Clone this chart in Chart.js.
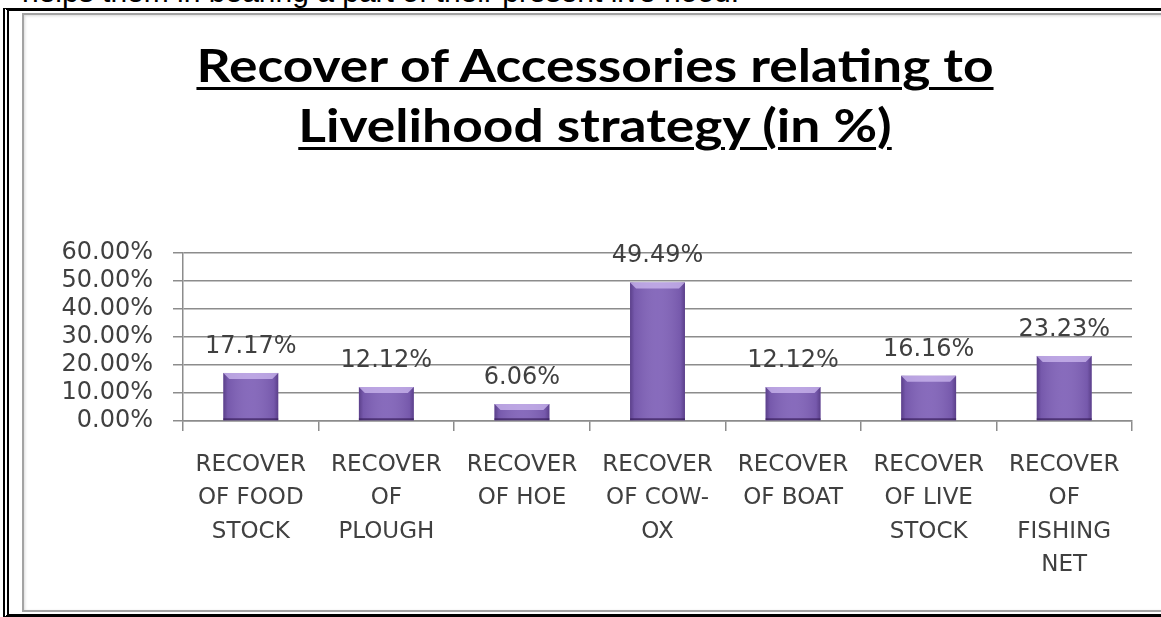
<!DOCTYPE html>
<html lang="en">
<head>
<meta charset="UTF-8">
<title>Recover of Accessories relating to Livelihood strategy (in %)</title>
<script src="https://cdn.jsdelivr.net/npm/chart.js"></script>
<style>
    body {
        margin: 0;
        background: #fff;
        width: 1161px;
        height: 617px;
        overflow: hidden;
        position: relative;
        font-family: Arial, "Liberation Sans", sans-serif;
    }
    .lead {
        position: absolute;
        left: 22px;
        top: -23px;
        font-size: 30px;
        line-height: 30px;
        white-space: nowrap;
        color: #000;
    }
    .frame {
        position: absolute;
        left: 3px;
        top: 8px;
        width: 1200px;
        height: 603px;
        border-left: 6px double #000;
        border-top: 3px solid #000;
        border-bottom: 3px solid #000;
    }
    .panel {
        position: absolute;
        left: 22px;
        top: 13px;
        width: 1200px;
        height: 595px;
        border: 2px solid #a3a3a3;
        box-shadow: inset 1px 1px 3px rgba(0, 0, 0, 0.15);
    }
    .title {
        position: absolute;
        left: 0;
        top: 35px;
        width: 1190px;
        text-align: center;
        font-family: Lato, "Open Sans", sans-serif;
        font-weight: bold;
        font-size: 45px;
        line-height: 60px;
        color: #000;
        text-decoration: underline;
        text-decoration-thickness: 3px;
        text-underline-offset: 5px;
        transform: scaleX(1.185);
        transform-origin: 595px 0;
    }
    .chart-box {
        position: absolute;
        left: 0;
        top: 0;
        width: 1161px;
        height: 617px;
    }
</style>
</head>
<body>
    <div class="lead">helps them in bearing a part of their present live hood.</div>
    <div class="frame"></div>
    <div class="panel"></div>
    <div class="title">Recover of Accessories relating to<br>Livelihood strategy (in %)</div>
    <div class="chart-box"><canvas id="recoverChart"></canvas></div>
<script>
    const categories = [
        ['RECOVER', 'OF FOOD', 'STOCK'],
        ['RECOVER', 'OF', 'PLOUGH'],
        ['RECOVER', 'OF HOE'],
        ['RECOVER', 'OF COW-', 'OX'],
        ['RECOVER', 'OF BOAT'],
        ['RECOVER', 'OF LIVE', 'STOCK'],
        ['RECOVER', 'OF', 'FISHING', 'NET']
    ];
    const shares = [17.17, 12.12, 6.06, 49.49, 12.12, 16.16, 23.23];
    const yTickValues = [0, 10, 20, 30, 40, 50, 60];

    const pct = v => v.toFixed(2) + '%';
    const textFont = '"DejaVu Sans", Verdana, sans-serif';
    const gridGray = '#8c8c8c';

    // bevelled purple bars plus the value written above each one
    const barDecor = {
        id: 'barDecor',
        afterDatasetsDraw(chart) {
            const ctx = chart.ctx;
            const meta = chart.getDatasetMeta(0);
            meta.data.forEach((bar, i) => {
                const p = bar.getProps(['x', 'y', 'base', 'width'], true);
                const l = p.x - p.width / 2, r = p.x + p.width / 2;
                const t = p.y, b = p.base;
                const bev = Math.min(6, (b - t) / 2);
                ctx.save();

                // darker side edges
                const side = ctx.createLinearGradient(l, 0, r, 0);
                side.addColorStop(0, 'rgba(60,35,100,0.55)');
                side.addColorStop(0.08, 'rgba(60,35,100,0.15)');
                side.addColorStop(0.5, 'rgba(255,255,255,0.06)');
                side.addColorStop(0.92, 'rgba(60,35,100,0.15)');
                side.addColorStop(1, 'rgba(60,35,100,0.55)');
                ctx.fillStyle = side;
                ctx.fillRect(l, t, r - l, b - t);

                // light top bevel
                ctx.beginPath();
                ctx.moveTo(l, t);
                ctx.lineTo(r, t);
                ctx.lineTo(r - bev, t + bev);
                ctx.lineTo(l + bev, t + bev);
                ctx.closePath();
                ctx.fillStyle = 'rgba(205,185,240,0.75)';
                ctx.fill();

                // dark bottom edge
                ctx.fillStyle = 'rgba(55,30,90,0.7)';
                ctx.fillRect(l, b - 2, r - l, 2);

                // value label
                ctx.fillStyle = '#404040';
                ctx.font = '24px ' + textFont;
                ctx.textAlign = 'center';
                ctx.textBaseline = 'alphabetic';
                ctx.fillText(pct(shares[i]), p.x, t - 20);
                ctx.restore();
            });
        }
    };

    new Chart(document.getElementById('recoverChart'), {
        type: 'bar',
        data: {
            labels: categories,
            datasets: [{
                data: shares,
                backgroundColor: '#8062b8',
                borderWidth: 0,
                categoryPercentage: 0.9,
                barPercentage: 0.45
            }]
        },
        options: {
            responsive: true,
            maintainAspectRatio: false,
            animation: false,
            layout: {
                padding: { top: 253, left: 0, right: 29, bottom: 0 }
            },
            plugins: {
                legend: { display: false },
                tooltip: { enabled: false }
            },
            scales: {
                x: {
                    afterFit: s => { s.height = 196; },
                    grid: {
                        offset: true,
                        drawOnChartArea: false,
                        drawTicks: true,
                        tickLength: 10,
                        color: gridGray,
                        lineWidth: 1.5
                    },
                    border: { display: true, color: gridGray, width: 1.5 },
                    ticks: {
                        color: '#404040',
                        padding: 17,
                        maxRotation: 0,
                        autoSkip: false,
                        font: { family: textFont, size: 23, lineHeight: 1.46 }
                    }
                },
                y: {
                    min: 0,
                    max: 60,
                    afterFit: s => { s.width = 183; },
                    afterBuildTicks: s => { s.ticks = yTickValues.map(v => ({ value: v })); },
                    grid: {
                        color: gridGray,
                        lineWidth: 1.5,
                        tickLength: 10
                    },
                    border: { display: true, color: gridGray, width: 1.5 },
                    ticks: {
                        color: '#404040',
                        padding: 20,
                        autoSkip: false,
                        callback: v => pct(v),
                        font: { family: textFont, size: 24 }
                    }
                }
            }
        },
        plugins: [barDecor]
    });
</script>
</body>
</html>
